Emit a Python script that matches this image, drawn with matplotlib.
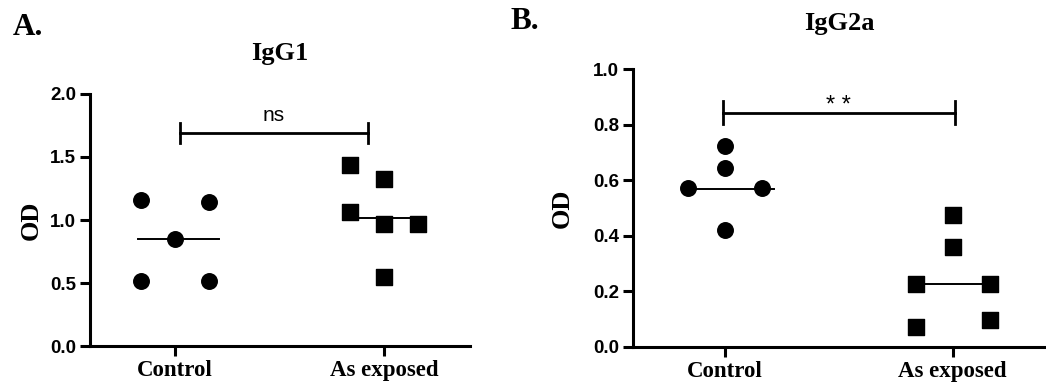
import matplotlib.pyplot as plt
import numpy as np

# IgG1 data (panel A)
a_ctrl = [1.16, 1.14, 0.85, 0.52, 0.52]
a_ctrl_off = [-1, 1, 0, -1, 1]
a_exp = [1.44, 1.325, 1.06, 0.97, 0.97, 0.545]
a_exp_off = [-1, 0, -1, 0, 1, 0]
a_med = [0.85, 1.02]

# IgG2a data (panel B)
b_ctrl = [0.725, 0.643, 0.571, 0.571, 0.42]
b_ctrl_off = [0, 0, -1, 1, 0]
b_exp = [0.475, 0.36, 0.226, 0.226, 0.072, 0.096]
b_exp_off = [0, 0, -1, 1, -1, 1]
b_med = [0.57, 0.225]

groups = ["Control", "As exposed"]

serif = "Liberation Serif"
sans = "Liberation Sans"

fig = plt.figure(figsize=(10.46, 3.85), dpi=100)
axA = fig.add_axes([0.086, 0.101, 0.363, 0.655])
axB = fig.add_axes([0.605, 0.0995, 0.395, 0.7205])

def draw(ax, ctrl, ctrl_off, exp, exp_off, med, ylim, yticks, sig, sig_fs, sig_pad,
         sig_y, sig_x, title, title_y, ypad):
    w = 0.163
    ax.scatter(np.array(ctrl_off) * w, ctrl, s=125, marker='o', color='black', zorder=3, clip_on=False)
    ax.scatter(1 + np.array(exp_off) * w, exp, s=130, marker='s', color='black', zorder=3, clip_on=False)
    ax.plot([-w - 0.01, w + 0.05], [med[0], med[0]], color='black', lw=1.4)
    ax.plot([1 - w, 1 + w], [med[1], med[1]], color='black', lw=1.4)
    # significance bar
    h = (ylim[1] - ylim[0]) * 0.04
    ax.plot([sig_x[0], sig_x[1]], [sig_y, sig_y], color='black', lw=2)
    ax.plot([sig_x[0], sig_x[0]], [sig_y - h, sig_y + h], color='black', lw=2)
    ax.plot([sig_x[1], sig_x[1]], [sig_y - h, sig_y + h], color='black', lw=2)
    ax.text(np.mean(sig_x), sig_y + h * sig_pad, sig, ha='center', va='bottom',
            fontsize=sig_fs, fontfamily=sans)
    ax.set_xlim(-0.405, 1.41)
    ax.set_ylim(*ylim)
    ax.set_yticks(yticks)
    ax.set_yticklabels([f"{t:.1f}" for t in yticks], fontfamily=sans, fontweight='bold', fontsize=13.5)
    ax.set_xticks([0, 1])
    ax.set_xticklabels(groups, fontfamily=serif, fontweight='bold', fontsize=16.5)
    for s in ['top', 'right']:
        ax.spines[s].set_visible(False)
    for s in ['left', 'bottom']:
        ax.spines[s].set_linewidth(2.2)
    ax.tick_params(width=2.2, length=7, pad=3)
    ax.set_ylabel("OD", fontfamily=serif, fontweight='bold', fontsize=19, labelpad=ypad)
    ax.set_title(title, fontfamily=serif, fontweight='bold', fontsize=19, y=title_y)

draw(axA, a_ctrl, a_ctrl_off, a_exp, a_exp_off, a_med, (0, 2.0), [0, 0.5, 1.0, 1.5, 2.0],
     "ns", 15, 0.8, 1.69, (0.025, 0.925), "IgG1", 1.1, 5)
draw(axB, b_ctrl, b_ctrl_off, b_exp, b_exp_off, b_med, (0, 1.0), [0, 0.2, 0.4, 0.6, 0.8, 1.0],
     "* *", 17, -0.4, 0.844, (-0.01, 1.01), "IgG2a", 1.11, 14)

fig.text(0.012, 0.91, "A.", fontfamily=serif, fontweight='bold', fontsize=22.5)
fig.text(0.488, 0.925, "B.", fontfamily=serif, fontweight='bold', fontsize=22.5)

fig.savefig("out.png", dpi=100)
